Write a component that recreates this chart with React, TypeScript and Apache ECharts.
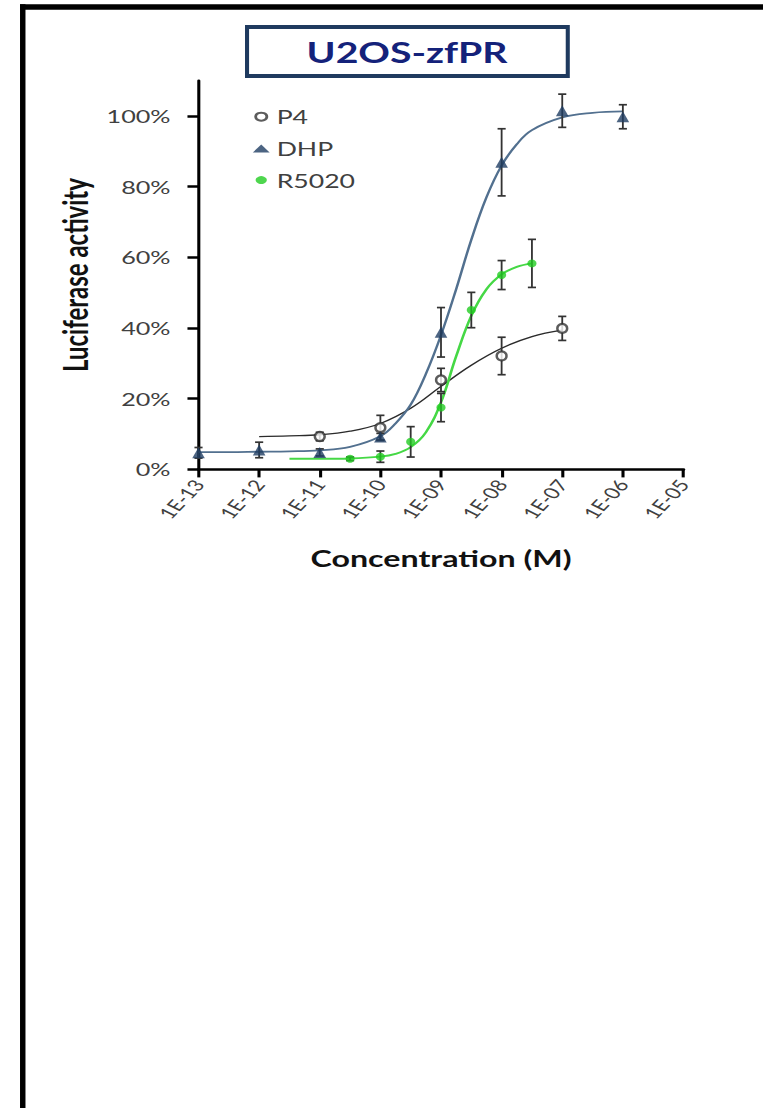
import React, { useEffect, useRef } from 'react';
import * as echarts from 'echarts';

// The reference picture is stretched horizontally; the chart is drawn narrower and scaled in x.
const SX = 1.4;
const W = 763 / SX;
const H = 1108;

// Axis ticks (log10 of concentration in M)
const xTicks = [-13, -12, -11, -10, -9, -8, -7, -6, -5];
const yTicks = [0, 20, 40, 60, 80, 100];

const p4X = [-11, -10, -9, -8, -7];
const p4Mean = [9.3, 11.8, 25.3, 32.1, 39.9];
const p4Err = [1.2, 3.5, 3.3, 5.3, 3.4];

const dhpX = [-13, -12, -11, -10, -9, -8, -7, -6];
const dhpMean = [4.7, 5.5, 4.8, 9.2, 38.8, 86.9, 101.5, 99.8];
const dhpErr = [1.5, 2.2, 1.0, 1.0, 7.0, 9.5, 4.7, 3.4];

const r5020X = [-10.5, -10, -9.5, -9, -8.5, -8, -7.5];
const r5020Mean = [3.0, 3.6, 7.8, 17.5, 45.1, 55.0, 58.3];
const r5020Err = [0.5, 1.6, 4.3, 4.0, 5.0, 4.1, 6.8];

// Fitted curves
const p4FitX = [-12, -11.5, -11, -10.5, -10, -9.5, -9, -8.5, -8, -7.5, -7];
const p4FitY = [9.3, 9.5, 9.8, 10.8, 13, 17.3, 23.5, 29.5, 34.3, 37.6, 39.4];

const dhpFitX = [-13, -12.5, -12, -11.5, -11, -10.5, -10, -9.75, -9.5, -9.25, -9, -8.75, -8.5, -8.25, -8, -7.75, -7.5, -7, -6.5, -6];
const dhpFitY = [4.9, 4.9, 5.0, 5.1, 5.4, 6.4, 9.4, 13, 18.3, 27, 38, 51, 65, 77, 86, 92, 96, 99.6, 100.9, 101.3];

const r5020FitX = [-11.5, -11, -10.5, -10, -9.75, -9.5, -9.25, -9, -8.75, -8.5, -8.25, -8, -7.75, -7.5];
const r5020FitY = [3.0, 3.0, 3.1, 3.6, 4.4, 6.3, 10.5, 19, 32, 43.5, 51, 55.2, 57.3, 58.3];

const zip2 = (a: number[], b: number[]) => a.map((v, i) => [v, b[i]]);
const zip3 = (a: number[], b: number[], c: number[]) => a.map((v, i) => [v, b[i], c[i]]);

const LABEL_GRAY = '#404040';
const ERR_COLOR = '#333333';

function errorSeries(name: string, data: number[][]) {
  return {
    type: 'custom',
    name: name + '-err',
    z: 3,
    encode: { x: 0, y: 1 },
    data,
    renderItem: (_params: any, api: any) => {
      const x = api.value(0);
      const y = api.value(1);
      const e = api.value(2);
      const top = api.coord([x, y + e]);
      const bot = api.coord([x, y - e]);
      const cw = 2.9;
      return {
        type: 'group',
        children: [
          { type: 'line', shape: { x1: top[0], y1: top[1], x2: bot[0], y2: bot[1] }, style: { stroke: ERR_COLOR, lineWidth: 1.3 } },
          { type: 'line', shape: { x1: top[0] - cw, y1: top[1], x2: top[0] + cw, y2: top[1] }, style: { stroke: ERR_COLOR, lineWidth: 1.7 } },
          { type: 'line', shape: { x1: bot[0] - cw, y1: bot[1], x2: bot[0] + cw, y2: bot[1] }, style: { stroke: ERR_COLOR, lineWidth: 1.7 } },
        ],
      };
    },
  };
}

function buildOption() {
  return {
    animation: false,
    backgroundColor: '#ffffff',
    textStyle: { fontFamily: 'Lato' },
    grid: { left: 141.8, top: 80.7, width: 346.4, height: 388.7, containLabel: false },
    graphic: [
      // outer frame (cut off at right and bottom)
      { type: 'rect', shape: { x: 14.3, y: 4.3, width: W, height: 5.5 }, style: { fill: '#000' }, z: 10 },
      { type: 'rect', shape: { x: 14.3, y: 4.3, width: 3.9, height: H }, style: { fill: '#000' }, z: 10 },
      // title box
      { type: 'rect', shape: { x: 175, y: 25, width: 232, height: 53 }, style: { fill: '#1F3A5F' }, z: 10 },
      { type: 'rect', shape: { x: 177.9, y: 29, width: 226.2, height: 45 }, style: { fill: '#ffffff' }, z: 11 },
      {
        type: 'text', x: 290.7, y: 52, z: 12,
        style: { text: 'U2OS-zfPR', fill: '#14227A', font: 'bold 28px Lato', align: 'center', verticalAlign: 'middle' },
      },
    ],
    legend: {
      orient: 'vertical',
      left: 175.6,
      top: 102.2,
      itemWidth: 12,
      itemHeight: 8,
      itemGap: 12.7,
      selectedMode: false,
      textStyle: { color: LABEL_GRAY, fontSize: 19, fontFamily: 'Lato', lineHeight: 19 },
      data: ['P4', 'DHP', 'R5020'],
    },
    xAxis: {
      type: 'value',
      min: -13,
      max: -5,
      interval: 1,
      name: 'Concentration (M)',
      nameLocation: 'middle',
      nameGap: 77,
      nameTextStyle: { fontFamily: 'Lato', fontWeight: 'bold', fontSize: 23, color: '#111' },
      axisLine: { onZero: false, lineStyle: { color: '#000', width: 2.5 } },
      axisTick: { show: true, length: 8, lineStyle: { color: '#000', width: 2.2 } },
      axisLabel: {
        rotate: 55,
        margin: 12,
        fontSize: 16,
        fontFamily: 'Lato',
        color: LABEL_GRAY,
        formatter: (v: number) => '1E-' + String(-v).padStart(2, '0'),
      },
      splitLine: { show: false },
    },
    yAxis: {
      type: 'value',
      min: 0,
      max: 110,
      interval: 20,
      name: 'Luciferase activity',
      nameLocation: 'middle',
      nameGap: 73,
      nameTextStyle: { fontFamily: 'Lato', fontWeight: 'bold', fontSize: 24, color: '#111' },
      axisLine: { onZero: false, lineStyle: { color: '#000', width: 2.2 } },
      axisTick: { show: true, length: 7.9, customValues: yTicks, lineStyle: { color: '#000', width: 2.5 } },
      axisLabel: {
        margin: 20,
        fontSize: 18,
        fontFamily: 'Lato',
        color: LABEL_GRAY,
        customValues: yTicks,
        formatter: (v: number) => (v > 100 ? '' : v + '%'),
      },
      splitLine: { show: false },
    },
    series: [
      {
        type: 'line', name: 'P4-fit', data: zip2(p4FitX, p4FitY), smooth: 0.4, showSymbol: false, z: 1,
        lineStyle: { color: '#2b2b2b', width: 1.3 }, silent: true,
      },
      {
        type: 'line', name: 'DHP-fit', data: zip2(dhpFitX, dhpFitY), smooth: 0.4, showSymbol: false, z: 1,
        lineStyle: { color: '#52708F', width: 1.8 }, silent: true,
      },
      {
        type: 'line', name: 'R5020-fit', data: zip2(r5020FitX, r5020FitY), smooth: 0.4, showSymbol: false, z: 1,
        lineStyle: { color: '#45D845', width: 1.9 }, silent: true,
      },
      errorSeries('P4', zip3(p4X, p4Mean, p4Err)),
      errorSeries('DHP', zip3(dhpX, dhpMean, dhpErr)),
      errorSeries('R5020', zip3(r5020X, r5020Mean, r5020Err)),
      {
        type: 'scatter', name: 'P4', data: zip2(p4X, p4Mean), symbol: 'emptyCircle', symbolSize: [7, 9], z: 5,
        itemStyle: { color: '#333333', borderColor: '#333333', borderWidth: 1.3 },
      },
      {
        type: 'scatter', name: 'DHP', data: zip2(dhpX, dhpMean), symbol: 'triangle', symbolSize: [9, 11], z: 5,
        itemStyle: { color: '#1F3D63' },
      },
      {
        type: 'scatter', name: 'R5020', data: zip2(r5020X, r5020Mean), symbol: 'circle', symbolSize: [6.5, 8], z: 5,
        itemStyle: { color: '#22CC22' },
      },
    ],
  };
}

export default function App() {
  const ref = useRef<HTMLDivElement>(null);
  useEffect(() => {
    if (!ref.current) return;
    const chart = echarts.init(ref.current, null, { renderer: 'svg' });
    chart.setOption(buildOption() as any);
    return () => chart.dispose();
  }, []);
  return (
    <div
      ref={ref}
      style={{
        position: 'fixed',
        left: 0,
        top: 0,
        width: W,
        height: H,
        transform: `scaleX(${SX})`,
        transformOrigin: '0 0',
        background: '#fff',
      }}
    />
  );
}
